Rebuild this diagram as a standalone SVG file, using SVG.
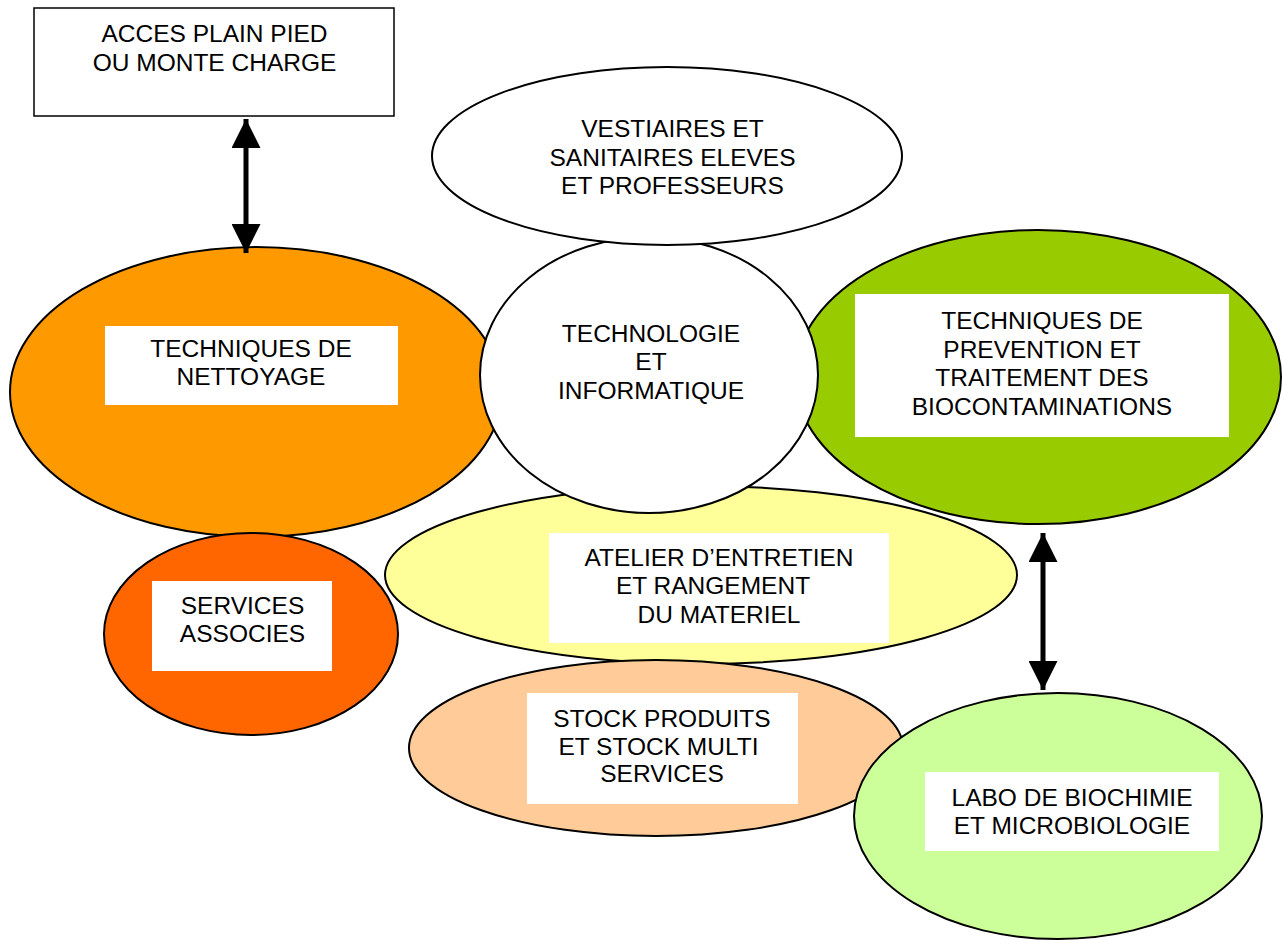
<svg xmlns="http://www.w3.org/2000/svg" width="1283" height="940" viewBox="0 0 1283 940">
<style>
.sh{stroke:#000;stroke-width:2}
.lb{fill:#fff;stroke:none}
text{font-family:"Liberation Sans",Arial,sans-serif;font-size:24.5px;fill:#000;text-anchor:middle}
.ar{stroke:#000;stroke-width:5;fill:none}
</style>
<defs>
<marker id="ah" viewBox="0 0 10 10" refX="10" refY="5" markerWidth="5.8" markerHeight="5.8" orient="auto-start-reverse" markerUnits="strokeWidth">
<path d="M0,0 L10,5 L0,10 z" fill="#000"/>
</marker>
</defs>
<rect width="1283" height="940" fill="#fff"/>
<g id="acces">
<rect x="34" y="8" width="360" height="108" fill="#fff" stroke="#000" stroke-width="1.5"/>
<text x="214.5" y="42">ACCES PLAIN PIED</text>
<text x="214.5" y="71">OU MONTE CHARGE</text>
</g>
<g id="nettoyage">
<ellipse class="sh" cx="256" cy="392" rx="246" ry="145" fill="#FF9900"/>
<rect class="lb" x="105" y="326" width="293" height="79"/>
<text x="251" y="357">TECHNIQUES DE</text>
<text x="251" y="385">NETTOYAGE</text>
</g>
<g id="prevention">
<ellipse class="sh" cx="1038" cy="377" rx="243" ry="147" fill="#99CC00"/>
<rect class="lb" x="855" y="294" width="374" height="143"/>
<text x="1042" y="329">TECHNIQUES DE</text>
<text x="1042" y="357.5">PREVENTION ET</text>
<text x="1042" y="386">TRAITEMENT DES</text>
<text x="1042" y="414.5">BIOCONTAMINATIONS</text>
</g>
<g id="atelier">
<ellipse class="sh" cx="701" cy="575" rx="316" ry="89" fill="#FFFF99"/>
<rect class="lb" x="549" y="533" width="340" height="110"/>
<text x="719" y="566">ATELIER D’ENTRETIEN</text>
<text x="713" y="594">ET RANGEMENT</text>
<text x="719" y="623">DU MATERIEL</text>
</g>
<g id="technologie">
<ellipse class="sh" cx="649" cy="375" rx="169" ry="138" fill="#fff"/>
<text x="651" y="342">TECHNOLOGIE</text>
<text x="651" y="370">ET</text>
<text x="651" y="399">INFORMATIQUE</text>
</g>
<g id="vestiaires">
<ellipse class="sh" cx="667" cy="156" rx="235" ry="89" fill="#fff"/>
<text x="672.5" y="137">VESTIAIRES ET</text>
<text x="672.5" y="166">SANITAIRES ELEVES</text>
<text x="672.5" y="194">ET PROFESSEURS</text>
</g>
<g id="services">
<ellipse class="sh" cx="251" cy="634" rx="147" ry="101" fill="#FF6600"/>
<rect class="lb" x="152" y="581" width="180" height="90"/>
<text x="242.5" y="614">SERVICES</text>
<text x="242.5" y="642">ASSOCIES</text>
</g>
<g id="stock">
<ellipse class="sh" cx="656" cy="748" rx="247" ry="88" fill="#FFCC99"/>
<rect class="lb" x="527" y="693" width="271" height="111"/>
<text x="662" y="727">STOCK PRODUITS</text>
<text x="658.5" y="755">ET STOCK MULTI</text>
<text x="662" y="782">SERVICES</text>
</g>
<g id="labo">
<ellipse class="sh" cx="1058" cy="816" rx="204" ry="123" fill="#CCFF99"/>
<rect class="lb" x="925" y="772" width="294" height="79"/>
<text x="1072" y="806">LABO DE BIOCHIMIE</text>
<text x="1072" y="834">ET MICROBIOLOGIE</text>
</g>
<g id="connectors">
<line class="ar" x1="246" y1="119" x2="246" y2="253" marker-start="url(#ah)" marker-end="url(#ah)"/>
<line class="ar" x1="1043" y1="533" x2="1043" y2="690" marker-start="url(#ah)" marker-end="url(#ah)"/>
</g>
</svg>
